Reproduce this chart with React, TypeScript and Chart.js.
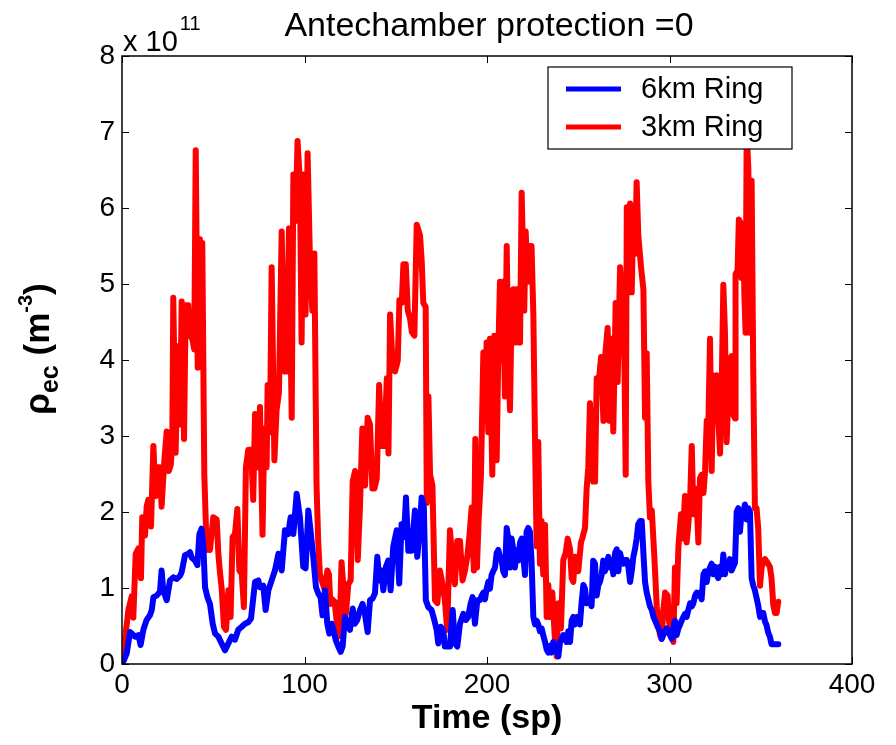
import React, { useEffect, useRef } from "react";
import { Chart, registerables } from "chart.js";

Chart.register(...registerables);

// ---- data (values in units of 10^11 m^-3) ----
const TITLE = "Antechamber protection =0";
const X_LABEL = "Time (sp)";
const SERIES_NAMES = ["6km Ring", "3km Ring"];
const EXPONENT = "11";
const X_TICKS = [0, 100, 200, 300, 400];
const Y_TICKS = [0, 1, 2, 3, 4, 5, 6, 7, 8];

const RED_T = [
  0, 0.7, 2, 3.5, 5.3, 6.2, 7.5, 9, 10.4, 11.1, 12.6, 13.5, 14.4, 15.9, 17.2, 18.4, 19, 20.8, 21.7, 23.2,
  24.5, 25.7, 26.8, 27.6, 28.1, 29.4, 30.5, 31.8, 32.7, 34, 34.9, 36.3, 37.3, 38.5, 39.6, 40.4, 41.5, 42.7, 43.3, 44,
  45.1, 46.4, 47.3, 48.2, 50.0, 51.9, 52.8, 53.7, 54.6, 55.9, 57.0, 58.3, 59.5, 60.6, 61.9, 63.2, 64.3, 65.6, 66.8, 67.9,
  69.2, 70.7, 71.9, 72.9, 74.3, 75.6, 77.0, 78.0, 79.25, 79.8, 81.1, 82.0, 83.5, 84.7, 86.0, 87.5, 88.9, 90.2, 91.5, 93.0,
  93.9, 95.1, 96.2, 97.5, 98.4, 99.3, 100.6, 101.7, 103.0, 104.3, 105.4, 106.6, 107.5, 108.4, 109.4, 111.2, 112.5, 113.4, 114.2, 115.2,
  116.5, 118.5, 119.4, 120.3, 121.5, 122.7, 124.0, 125.3, 126.4, 127.7, 129.2, 130.4, 131.7, 133.2, 134.6, 135.9, 137.2, 138.3, 139.6, 140.9,
  142.3, 143.8, 145.1, 146.0, 146.9, 148.2, 149.6, 151.1, 152.0, 153.3, 154.2, 155.5, 156.6, 157.8, 158.8, 160.2, 161.5, 163.3, 164.2, 165.1,
  166.4, 167.0, 167.9, 168.8, 170.1, 171.5, 172.8, 174.2, 175.6, 176.9, 178.2, 179.7, 181.2, 182.4, 183.7, 185.2, 186.6, 187.9, 189.2, 190.3,
  191.6, 192.8, 193.6, 194.5, 195.4, 196.7, 198.0, 198.9, 199.8, 200.7, 201.6, 202.9, 204.0, 205.3, 206.2, 207.1, 208.0, 208.9, 209.8, 210.8,
  211.7, 212.6, 213.5, 214.4, 215.3, 216.2, 217.1, 218.1, 219.0, 220.4, 221.2, 222.3, 223.5, 224.4, 225.4, 226.3, 227.2, 228.1, 229.0, 229.9,
  230.8, 231.8, 232.7, 233.6, 234.5, 235.8, 237.2, 238.2, 239.1, 240.5, 241.8, 243.1, 244.2, 245.5, 246.4, 247.3, 248.2, 249.1, 250.0, 251.5,
  252.2, 253.7, 254.6, 255.5, 256.4, 257.3, 258.2, 259.2, 260.1, 261.4, 262.5, 263.8, 264.7, 266.1, 266.9, 268.0, 269.2, 270.5, 271.6, 272.9,
  274.2, 275.3, 276.0, 276.6, 277.5, 278.4, 279.3, 280.2, 281.1, 282.0, 282.9, 284.4, 285.7, 286.6, 287.5, 288.4, 289.3, 290.3, 291.7, 293.0,
  293.9, 294.8, 295.7, 296.6, 297.6, 299.0, 299.7, 300.8, 302.1, 303.0, 303.9, 304.9, 306.3, 307.2, 308.5, 309.4, 310.3, 311.3, 312.2, 313.1,
  314.0, 314.9, 315.8, 316.7, 317.6, 318.6, 319.5, 320.4, 321.3, 322.2, 323.1, 324.0, 324.9, 325.9, 326.8, 327.7, 328.6, 329.5, 330.4, 331.3,
  332.2, 333.1, 334.0, 334.9, 335.9, 336.2, 337.3, 338.0, 339.2, 339.5, 340.4, 341.0, 341.7, 342.3, 343.2, 344.1, 345.0, 345.9, 346.8, 347.7,
  348.6, 349.6, 350.5, 351.4, 352.3, 353.8, 355.0, 355.9, 356.9, 357.8, 358.7, 359.6,
];
const RED_V = [
  0.1, 0.18, 0.4, 0.71, 0.89, 0.61, 1.45, 1.52, 1.13, 1.93, 1.69, 2.07, 2.16, 1.81, 2.87, 2.21, 2.59, 2.59, 2.07, 2.68,
  3.06, 2.54, 2.63, 3.06, 4.82, 2.78, 4.18, 3.15, 4.77, 2.96, 4.72, 4.72, 4.32, 4.28, 4.14, 6.76, 3.9, 5.59, 3.99, 5.54,
  2.49, 1.5, 1.6, 1.5, 1.93, 1.9, 1.45, 1.2, 1.0, 0.49, 0.45, 0.97, 0.62, 1.67, 1.71, 2.04, 1.23, 1.19, 0.75, 2.59,
  2.82, 2.82, 2.16, 3.29, 2.59, 3.38, 1.7, 3.1, 2.59, 3.67, 3.05, 5.22, 2.68, 3.34, 3.57, 5.69, 3.85, 3.85, 5.73, 3.24,
  6.44, 5.83, 6.88, 6.34, 4.23, 6.44, 4.6, 6.72, 5.31, 4.65, 5.4, 2.35, 1.62, 1.19, 1.1, 0.97, 1.23, 1.18, 0.79, 0.85,
  0.82, 0.36, 0.55, 1.34, 0.95, 0.66, 1.05, 1.1, 2.4, 2.54, 1.37, 2.07, 3.1, 2.35, 3.24, 3.15, 2.31, 2.31, 2.44, 3.67,
  2.87, 2.87, 3.76, 2.77, 4.6, 3.99, 3.85, 3.99, 4.79, 4.75, 5.26, 5.26, 4.65, 4.55, 4.37, 4.32, 5.78, 5.64, 5.31, 4.75,
  4.7, 2.12, 3.52, 2.49, 2.35, 0.84, 0.8, 1.23, 1.05, 0.84, 0.45, 1.76, 1.3, 1.05, 1.62, 1.62, 1.1, 1.23, 1.41, 1.67,
  2.06, 1.23, 2.96, 1.27, 1.88, 2.49, 4.1, 3.2, 4.23, 3.05, 4.28, 2.49, 4.32, 2.68, 4.09, 5.03, 3.99, 5.03, 3.52, 5.5,
  3.9, 3.34, 4.7, 4.93, 4.23, 4.93, 4.23, 4.23, 6.2, 4.65, 5.69, 5.03, 5.5, 5.5, 4.6, 2.96, 1.55, 2.92, 1.32, 1.88,
  1.18, 1.83, 0.62, 1.04, 0.62, 0.94, 0.33, 0.1, 0.8, 0.47, 1.37, 1.46, 1.65, 1.51, 1.13, 1.08, 1.41, 1.37, 1.22, 1.6,
  1.65, 1.79, 2.31, 2.59, 3.43, 2.96, 2.4, 2.4, 3.76, 3.76, 4.04, 3.2, 4.04, 4.42, 3.2, 4.28, 3.06, 4.75, 3.71, 5.22,
  4.84, 3.99, 2.49, 6.01, 4.89, 6.06, 4.89, 5.97, 5.4, 6.34, 5.64, 5.22, 4.93, 3.24, 4.09, 2.4, 1.93, 2.02, 1.41, 0.76,
  0.52, 0.38, 0.33, 0.71, 0.94, 0.9, 0.57, 0.43, 0.29, 1.27, 0.8, 1.55, 1.97, 1.65, 2.21, 1.6, 1.83, 2.16, 2.87, 1.97,
  2.31, 2.16, 1.6, 2.44, 2.49, 2.25, 2.54, 3.2, 3.15, 4.28, 2.54, 3.8, 3.62, 3.8, 3.2, 2.77, 3.66, 4.99, 4.36, 2.92,
  3.49, 4.0, 4.05, 3.28, 3.23, 5.13, 5.18, 5.85, 5.79, 5.08, 5.79, 4.87, 4.36, 7.03, 6.51, 4.36, 6.36, 3.85, 2.05, 2.05,
  1.79, 1.03, 1.28, 1.33, 1.38, 1.33, 1.28, 1.13, 0.77, 0.67, 0.67, 0.82,
];

const BLUE_T = [
  0, 0.7, 2.6, 4.4, 5.4, 6.2, 7.2, 8.0, 9.0, 10.2, 11.7, 13.5, 15.3, 16.3, 17.2, 19.0, 20.8, 21.7, 22.6, 24.5,
  26.3, 28.1, 30.0, 31.8, 32.7, 34.5, 36.4, 37.3, 38.2, 40.0, 41.3, 42.4, 43.6, 44.6, 45.5, 46.8, 48.2, 49.7, 51.0, 52.8,
  54.6, 56.4, 58.3, 60.1, 61.9, 63.7, 65.6, 67.4, 69.2, 70.7, 72.9, 74.7, 75.6, 77.4, 78.7, 80.2, 82.0, 83.8, 85.7, 87.5,
  89.3, 91.1, 92.4, 93.9, 95.7, 97.5, 99.3, 100.6, 102.1, 103.3, 104.8, 106.3, 107.5, 108.8, 109.9, 111.2, 112.5, 113.6, 114.9, 115.8,
  117.2, 118.5, 119.8, 120.9, 122.2, 123.4, 124.9, 126.4, 127.6, 128.9, 130.4, 131.8, 133.1, 134.6, 135.9, 137.3, 138.6, 139.9, 141.0, 142.2,
  143.2, 144.6, 145.9, 147.2, 148.6, 150.5, 151.9, 153.2, 154.5, 155.6, 156.9, 158.7, 160.5, 161.8, 162.9, 164.2, 165.4, 166.5, 167.8, 169.6,
  171.1, 172.4, 173.3, 174.6, 176.0, 176.9, 178.2, 179.7, 181.2, 182.4, 183.7, 185.2, 187.0, 188.5, 189.7, 191.0, 192.1, 193.4, 194.7, 196.1,
  197.1, 198.0, 198.9, 199.8, 200.7, 201.6, 202.5, 203.4, 204.4, 205.3, 206.2, 207.1, 208.0, 208.9, 209.8, 210.8, 211.7, 212.6, 213.5, 214.4,
  215.3, 216.2, 217.1, 218.1, 219.0, 219.9, 220.8, 221.7, 222.6, 223.5, 224.4, 225.4, 226.3, 227.2, 228.1, 229.0, 229.9, 230.8, 231.8, 232.7,
  233.6, 234.5, 235.4, 236.3, 237.2, 238.2, 239.1, 240.0, 240.9, 241.8, 242.7, 243.6, 244.5, 245.5, 246.4, 247.3, 248.2, 249.1, 250.0, 250.9,
  251.8, 252.8, 253.7, 254.6, 255.5, 256.4, 257.3, 258.2, 259.2, 260.1, 261.0, 261.9, 262.8, 263.7, 264.6, 265.6, 266.5, 267.4, 268.3, 269.2,
  270.2, 271.1, 272.0, 272.9, 273.8, 274.7, 275.6, 276.6, 277.5, 278.4, 279.3, 280.2, 281.1, 282.0, 282.9, 283.9, 284.8, 285.7, 286.6, 287.5,
  288.4, 289.3, 290.3, 291.2, 292.1, 293.0, 293.9, 294.8, 295.7, 296.6, 297.6, 298.5, 299.4, 300.3, 301.2, 302.1, 303.0, 303.9, 304.9, 305.8,
  306.7, 307.6, 308.5, 309.4, 310.3, 311.3, 312.2, 313.1, 314.0, 314.9, 315.8, 316.7, 317.6, 318.6, 319.5, 320.4, 321.3, 322.2, 323.1, 324.0,
  324.9, 325.8, 326.7, 327.6, 328.6, 329.5, 330.4, 331.3, 332.2, 333.1, 334.0, 334.9, 335.9, 336.8, 337.7, 338.6, 339.5, 340.4, 341.3, 342.3,
  343.2, 344.1, 345.0, 345.9, 346.8, 347.7, 348.6, 349.6, 350.5, 351.4, 352.3, 353.2, 354.1, 355.0, 355.9, 356.9, 357.8, 358.7, 359.6,
];
const BLUE_V = [
  0.0, 0.03, 0.14, 0.42, 0.4, 0.38, 0.36, 0.36, 0.38, 0.25, 0.45, 0.58, 0.64, 0.71, 0.88, 0.9, 0.95, 1.23, 0.97, 0.84,
  1.1, 1.14, 1.12, 1.16, 1.21, 1.43, 1.45, 1.47, 1.4, 1.36, 1.3, 1.71, 1.78, 1.54, 1.01, 0.88, 0.79, 0.53, 0.4, 0.36,
  0.27, 0.18, 0.27, 0.36, 0.32, 0.45, 0.49, 0.53, 0.55, 0.6, 1.08, 1.1, 1.01, 1.03, 0.71, 0.97, 1.1, 1.23, 1.45, 1.23,
  1.76, 1.71, 1.93, 1.71, 2.24, 1.93, 1.28, 1.26, 2.02, 1.76, 1.41, 1.01, 0.93, 0.88, 0.64, 0.97, 0.53, 0.4, 0.53, 0.45,
  0.31, 0.23, 0.16, 0.23, 0.62, 0.53, 0.45, 0.73, 0.53, 0.58, 0.71, 0.79, 0.66, 0.42, 0.84, 0.86, 0.93, 1.41, 1.1, 1.23,
  0.97, 1.28, 1.36, 0.97, 1.54, 1.76, 1.06, 1.84, 1.67, 2.19, 1.49, 1.49, 2.02, 1.41, 1.71, 2.19, 2.06, 0.84, 0.75, 0.71,
  0.58, 0.45, 0.27, 0.49, 0.45, 0.23, 0.23, 0.23, 0.71, 0.27, 0.23, 0.53, 0.66, 0.58, 0.62, 0.79, 0.88, 0.53, 0.84, 0.84,
  0.9, 0.94, 0.85, 0.99, 1.08, 0.99, 1.17, 1.22, 1.27, 1.46, 1.5, 1.41, 1.37, 1.22, 1.17, 1.79, 1.65, 1.27, 1.65, 1.5,
  1.27, 1.5, 1.36, 1.6, 1.65, 1.41, 1.17, 1.74, 1.79, 1.74, 1.36, 0.62, 0.52, 0.57, 0.52, 0.43, 0.47, 0.38, 0.29, 0.19,
  0.15, 0.24, 0.15, 0.29, 0.24, 0.19, 0.1, 0.29, 0.33, 0.38, 0.33, 0.29, 0.43, 0.29, 0.57, 0.62, 0.52, 0.62, 0.62, 0.52,
  0.8, 1.04, 0.99, 0.8, 0.85, 0.85, 0.76, 1.36, 1.32, 0.9, 1.04, 1.08, 1.17, 1.36, 1.22, 1.32, 1.41, 1.27, 1.37, 1.18,
  1.46, 1.51, 1.22, 1.46, 1.37, 1.32, 1.37, 1.37, 1.27, 1.08, 1.22, 1.41, 1.51, 1.65, 1.84, 1.88, 1.88, 1.46, 1.08, 0.94,
  0.85, 0.76, 0.71, 0.62, 0.57, 0.52, 0.47, 0.43, 0.33, 0.38, 0.43, 0.47, 0.43, 0.38, 0.33, 0.47, 0.57, 0.38, 0.47, 0.52,
  0.57, 0.62, 0.66, 0.62, 0.71, 0.8, 0.76, 0.8, 0.9, 0.94, 0.9, 0.94, 0.85, 1.18, 1.22, 1.08, 1.22, 1.27, 1.32, 1.18,
  1.28, 1.18, 1.13, 1.28, 1.18, 1.44, 1.18, 1.33, 1.28, 1.38, 1.23, 1.28, 1.33, 2.0, 2.05, 1.74, 2.0, 1.95, 2.1, 1.9,
  2.05, 2.0, 1.13, 1.03, 0.97, 0.87, 0.77, 0.62, 0.67, 0.67, 0.56, 0.51, 0.41, 0.36, 0.26, 0.26, 0.26, 0.26, 0.26,
];

const BLUE = "#0000ff";
const RED = "#ff0000";
const FONT_FAMILY = '"Liberation Sans", Arial, Helvetica, sans-serif';

const matlabDecor = {
  id: "matlabDecor",
  afterDraw(chart: any) {
    const { ctx, chartArea: a, scales } = chart;
    const xs = scales.x;
    const ys = scales.y;
    const TICK = 7;
    ctx.save();

    // frame + inward ticks
    ctx.strokeStyle = "#000";
    ctx.lineWidth = 1.5;
    ctx.strokeRect(a.left, a.top, a.right - a.left, a.bottom - a.top);
    ctx.lineWidth = 1;
    ctx.beginPath();
    for (const t of X_TICKS) {
      const px = Math.round(xs.getPixelForValue(t)) + 0.5;
      ctx.moveTo(px, a.bottom);
      ctx.lineTo(px, a.bottom - TICK);
      ctx.moveTo(px, a.top);
      ctx.lineTo(px, a.top + TICK);
    }
    for (const t of Y_TICKS) {
      const py = Math.round(ys.getPixelForValue(t)) + 0.5;
      ctx.moveTo(a.left, py);
      ctx.lineTo(a.left + TICK, py);
      ctx.moveTo(a.right, py);
      ctx.lineTo(a.right - TICK, py);
    }
    ctx.stroke();

    ctx.fillStyle = "#000";
    // title
    ctx.font = `normal 34px ${FONT_FAMILY}`;
    ctx.textAlign = "center";
    ctx.textBaseline = "alphabetic";
    ctx.fillText(TITLE, (a.left + a.right) / 2 + 2, 36);

    // x label
    ctx.font = `bold 34px ${FONT_FAMILY}`;
    ctx.textBaseline = "middle";
    ctx.fillText(X_LABEL, (a.left + a.right) / 2, 719);

    // exponent label  "x 10^11"
    ctx.textAlign = "left";
    ctx.textBaseline = "alphabetic";
    ctx.font = `normal 29px ${FONT_FAMILY}`;
    const base = "x 10";
    ctx.fillText(base, a.left + 1, 51);
    const bw = ctx.measureText(base).width;
    ctx.font = `normal 20px ${FONT_FAMILY}`;
    ctx.fillText(EXPONENT, a.left + 3 + bw, 30);

    // y label  rho_ec (m^-3), rotated
    ctx.save();
    ctx.translate(49, (a.top + a.bottom) / 2 - 11);
    ctx.rotate(-Math.PI / 2);
    const parts = [
      { t: "\u03c1", size: 35, dy: 0 },
      { t: "ec", size: 25, dy: 9 },
      { t: " (m", size: 35, dy: 0 },
      { t: "-3", size: 20, dy: -17 },
      { t: ")", size: 35, dy: 0 },
    ];
    let total = 0;
    const widths: number[] = [];
    for (const p of parts) {
      ctx.font = `bold ${p.size}px ${FONT_FAMILY}`;
      const w = ctx.measureText(p.t).width;
      widths.push(w);
      total += w;
    }
    let cx = -total / 2;
    parts.forEach((p, i) => {
      ctx.font = `bold ${p.size}px ${FONT_FAMILY}`;
      ctx.fillText(p.t, cx, p.dy);
      cx += widths[i];
    });
    ctx.restore();

    // legend box (opaque, MATLAB style)
    const lx = a.right - 304;
    const ly = a.top + 11;
    const lw = 244;
    const lh = 82;
    ctx.fillStyle = "#fff";
    ctx.fillRect(lx, ly, lw, lh);
    ctx.strokeStyle = "#000";
    ctx.lineWidth = 1.2;
    ctx.strokeRect(lx, ly, lw, lh);
    const colors = [BLUE, RED];
    const rows = [ly + 22, ly + 60];
    ctx.font = `normal 29px ${FONT_FAMILY}`;
    ctx.textBaseline = "middle";
    ctx.textAlign = "left";
    SERIES_NAMES.forEach((name, i) => {
      ctx.strokeStyle = colors[i];
      ctx.lineWidth = 5;
      ctx.beginPath();
      ctx.moveTo(lx + 18, rows[i]);
      ctx.lineTo(lx + 73, rows[i]);
      ctx.stroke();
      ctx.fillStyle = "#000";
      ctx.fillText(name, lx + 93, rows[i] + 1);
    });

    ctx.restore();
  },
};

export default function App() {
  const canvasRef = useRef<HTMLCanvasElement | null>(null);

  useEffect(() => {
    document.body.style.margin = "0";
    const canvas = canvasRef.current;
    if (!canvas) return;
    const tickFont = { family: FONT_FAMILY, size: 28, lineHeight: 1 };
    const chart = new Chart(canvas, {
      type: "line",
      data: {
        datasets: [
          {
            label: SERIES_NAMES[0],
            data: BLUE_T.map((t, i) => ({ x: t, y: BLUE_V[i] })),
            borderColor: BLUE,
            backgroundColor: BLUE,
            borderWidth: 6,
            pointRadius: 0,
            tension: 0,
            borderJoinStyle: "round",
            borderCapStyle: "round",
          },
          {
            label: SERIES_NAMES[1],
            data: RED_T.map((t, i) => ({ x: t, y: RED_V[i] })),
            borderColor: RED,
            backgroundColor: RED,
            borderWidth: 6,
            pointRadius: 0,
            tension: 0,
            borderJoinStyle: "round",
            borderCapStyle: "round",
          },
        ],
      },
      options: {
        animation: false,
        responsive: false,
        maintainAspectRatio: false,
        events: [],
        layout: { padding: { left: 0, right: 44, top: 56, bottom: 0 } },
        plugins: {
          legend: { display: false },
          title: { display: false },
          tooltip: { enabled: false },
        },
        scales: {
          x: {
            type: "linear",
            min: 0,
            max: 400,
            afterBuildTicks: (s: any) => {
              s.ticks = X_TICKS.map((v) => ({ value: v }));
            },
            ticks: { font: tickFont, color: "#000", padding: 7, maxRotation: 0 },
            grid: { display: false, drawTicks: false },
            border: { display: false },
            afterFit: (s: any) => {
              s.height = 81;
            },
          },
          y: {
            type: "linear",
            min: 0,
            max: 8,
            afterBuildTicks: (s: any) => {
              s.ticks = Y_TICKS.map((v) => ({ value: v }));
            },
            ticks: { font: tickFont, color: "#000", padding: 7 },
            grid: { display: false, drawTicks: false },
            border: { display: false },
            afterFit: (s: any) => {
              s.width = 122;
            },
          },
        },
      },
      plugins: [matlabDecor],
    });
    return () => chart.destroy();
  }, []);

  return (
    <div style={{ position: "absolute", left: 0, top: 0, width: 896, height: 745, background: "#fff" }}>
      <canvas ref={canvasRef} width={896} height={745} style={{ display: "block" }} />
    </div>
  );
}
